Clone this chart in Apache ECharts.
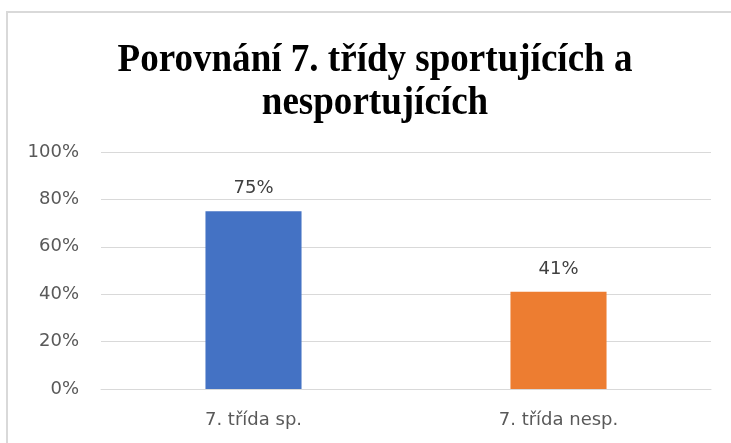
<!DOCTYPE html>
<html>
<head>
<meta charset="utf-8">
<script src="https://cdn.jsdelivr.net/npm/echarts@6/dist/echarts.min.js"></script>
<style>
  html, body { margin: 0; padding: 0; background: #fff; }
  #chart { width: 731px; height: 443px; }
</style>
</head>
<body>
<div id="chart"></div>
<script>
// data
var titleText = 'Porovnání 7. třídy sportujících a\nnesportujících'
var categories = ['7. třída sp.', '7. třída nesp.']
var values = [75, 41]
var barColors = ['#4472C4', '#ED7D31']
var yTicks = [0, 20, 40, 60, 80, 100]

var labelFont = 'DejaVu Sans'

var myChart = echarts.init(document.getElementById('chart'))
myChart.setOption({
  animation: false,
  graphic: [
    // chart border, only top and left are inside the picture
    {
      type: 'rect',
      shape: { x: 7, y: 12, width: 740, height: 460 },
      style: { fill: 'none', stroke: '#D9D9D9', lineWidth: 2 },
      silent: true
    },
    // title, a bit narrow like in the original
    {
      type: 'text',
      x: 375,
      y: 39,
      scaleX: 0.95,
      silent: true,
      style: {
        text: titleText,
        textAlign: 'center',
        textVerticalAlign: 'top',
        fontFamily: 'Liberation Serif',
        fontWeight: 'bold',
        fontSize: 39,
        lineHeight: 43,
        fill: '#000'
      }
    }
  ],
  grid: {
    left: 101,
    right: 20,
    top: 152,
    bottom: 54
  },
  xAxis: {
    type: 'category',
    data: categories,
    axisTick: { show: false },
    axisLine: { lineStyle: { color: '#D9D9D9', width: 1 } },
    axisLabel: {
      color: '#595959',
      fontFamily: labelFont,
      fontSize: 18,
      margin: 22
    }
  },
  yAxis: {
    type: 'value',
    min: yTicks[0],
    max: yTicks[yTicks.length - 1],
    interval: 20,
    axisLine: { show: false },
    axisTick: { show: false },
    axisLabel: {
      color: '#595959',
      fontFamily: labelFont,
      fontSize: 18,
      margin: 22,
      formatter: '{value}%'
    },
    splitLine: { lineStyle: { color: '#D9D9D9', width: 1 } }
  },
  series: [
    {
      type: 'bar',
      barWidth: '31.5%',
      data: values.map(function (v, i) {
        return { value: v, itemStyle: { color: barColors[i] } }
      }),
      label: {
        show: true,
        position: 'top',
        distance: 14,
        color: '#404040',
        fontFamily: labelFont,
        fontSize: 18,
        formatter: '{c}%'
      }
    }
  ]
})
</script>
</body>
</html>
